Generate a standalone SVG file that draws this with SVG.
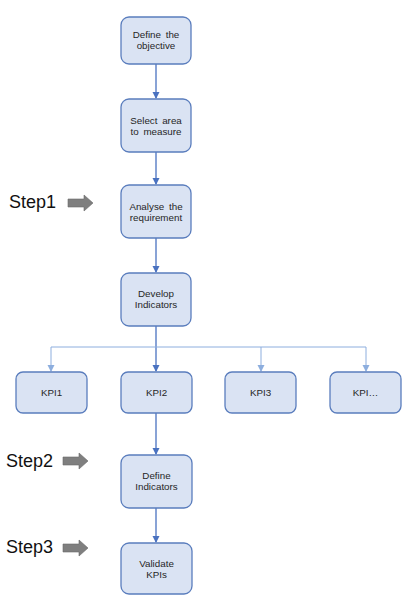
<svg xmlns="http://www.w3.org/2000/svg" width="403" height="595" viewBox="0 0 403 595">
<style>
.box{fill:#dae3f3;stroke:#5a7dbd;stroke-width:1.3}
.t{font-family:"Liberation Sans",Arial,sans-serif;font-size:9.8px;fill:#262626;text-anchor:middle;word-spacing:2px}
.step{font-family:"Liberation Sans",Arial,sans-serif;font-size:18px;fill:#111}
.c{stroke:#4a72c0;stroke-width:1.3;fill:none}
.b{stroke:#8daede;stroke-width:1;fill:none}
.arr{fill:#7f7f7f;stroke:#6a6a6a;stroke-width:0.6}
</style>
<defs>
<marker id="ah" markerWidth="8" markerHeight="8" refX="6" refY="4" orient="auto" markerUnits="userSpaceOnUse">
<path d="M0,0.5 L7,4 L0,7.5 Z" fill="#4a72c0"/>
</marker>
<marker id="ah2" markerWidth="8" markerHeight="8" refX="6" refY="4" orient="auto" markerUnits="userSpaceOnUse">
<path d="M0,0.5 L7,4 L0,7.5 Z" fill="#8daede"/>
</marker>
</defs>
<rect width="403" height="595" fill="#fff"/>
<g id="connectors">
<line class="c" x1="156" y1="64" x2="156" y2="98" marker-end="url(#ah)"/>
<line class="c" x1="156" y1="152" x2="156" y2="184" marker-end="url(#ah)"/>
<line class="c" x1="156" y1="238" x2="156" y2="272" marker-end="url(#ah)"/>
<line class="c" x1="156" y1="326" x2="156" y2="371" marker-end="url(#ah)"/>
<polyline class="b" points="51,347 366,347 366,371" marker-end="url(#ah2)"/>
<line class="b" x1="51" y1="347" x2="51" y2="371" marker-end="url(#ah2)"/>
<line class="b" x1="261" y1="347" x2="261" y2="371" marker-end="url(#ah2)"/>
<line class="c" x1="156" y1="413" x2="156" y2="454" marker-end="url(#ah)"/>
<line class="c" x1="156" y1="508" x2="156" y2="542" marker-end="url(#ah)"/>
</g>
<g id="n1"><rect class="box" x="121" y="17" width="70" height="47" rx="8"/><text class="t" x="156" y="38">Define the</text><text class="t" x="156" y="49">objective</text></g>
<g id="n2"><rect class="box" x="121" y="99" width="70" height="53" rx="8"/><text class="t" x="156" y="124">Select area</text><text class="t" x="156" y="135">to measure</text></g>
<g id="n3"><rect class="box" x="121" y="185" width="70" height="53" rx="8"/><text class="t" x="156" y="210">Analyse the</text><text class="t" x="156" y="221">requirement</text></g>
<g id="n4"><rect class="box" x="121" y="273" width="70" height="53" rx="8"/><text class="t" x="156" y="297">Develop</text><text class="t" x="156" y="308">Indicators</text></g>
<g id="kpi1"><rect class="box" x="16" y="372" width="71" height="41" rx="7"/><text class="t" x="51.5" y="396">KPI1</text></g>
<g id="kpi2"><rect class="box" x="121" y="372" width="71" height="41" rx="7"/><text class="t" x="156.5" y="396">KPI2</text></g>
<g id="kpi3"><rect class="box" x="225" y="372" width="71" height="41" rx="7"/><text class="t" x="260.5" y="396">KPI3</text></g>
<g id="kpi4"><rect class="box" x="330" y="372" width="71" height="41" rx="7"/><text class="t" x="365.5" y="396">KPI…</text></g>
<g id="n5"><rect class="box" x="121" y="455" width="71" height="53" rx="8"/><text class="t" x="156.5" y="479">Define</text><text class="t" x="156.5" y="490">Indicators</text></g>
<g id="n6"><rect class="box" x="121" y="543" width="71" height="51" rx="8"/><text class="t" x="156.5" y="567">Validate</text><text class="t" x="156.5" y="578">KPIs</text></g>
<g id="step1"><text class="step" x="9" y="208">Step1</text><path class="arr" d="M68,199 L84,199 L84,195 L93,203 L84,211 L84,207 L68,207 Z"/></g>
<g id="step2"><text class="step" x="6" y="467">Step2</text><path class="arr" d="M63,457 L79,457 L79,453 L88,461 L79,469 L79,465 L63,465 Z"/></g>
<g id="step3"><text class="step" x="6" y="553">Step3</text><path class="arr" d="M63,544 L79,544 L79,540 L88,548 L79,556 L79,552 L63,552 Z"/></g>
</svg>
